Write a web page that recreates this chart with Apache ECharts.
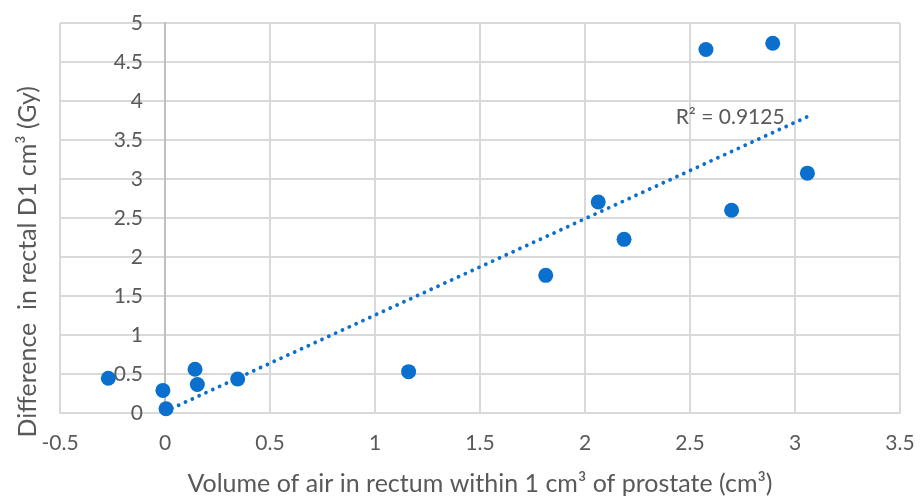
<!DOCTYPE html>
<html>
<head>
<meta charset="utf-8">
<script src="https://cdn.jsdelivr.net/npm/echarts@6/dist/echarts.min.js"></script>
<style>
  html, body { margin: 0; padding: 0; background: #fff; }
  #chart { width: 922px; height: 501px; }
</style>
</head>
<body>
<div id="chart"></div>
<script>
// Air volume in rectum (cm³) vs. change in rectal D1 cm³ (Gy)
const airVolume = [-0.27, -0.01, 0.005, 0.143, 0.154, 0.346, 1.160, 1.813, 2.063, 2.186, 2.576, 2.698, 2.894, 3.059];
const doseDiff  = [0.445, 0.29, 0.055, 0.56, 0.365, 0.436, 0.53, 1.765, 2.706, 2.226, 4.66, 2.60, 4.74, 3.075];

// Linear trendline end points
const trendX = [0.0, 3.06];
const trendY = [0.02, 3.80];
const trendLabel = 'R² = 0.9125';

const xTitle = 'Volume of air in rectum within 1 cm³ of prostate (cm³)';
const yTitle = 'Difference  in rectal D1 cm³ (Gy)';

const font = 'Lato, "Open Sans", sans-serif';
const grey = '#595959';
const blue = '#0b6fcd';

const points = airVolume.map((x, i) => [x, doseDiff[i]]);
const trend = trendX.map((x, i) => [x, trendY[i]]);

const chart = echarts.init(document.getElementById('chart'), null, { renderer: 'canvas' });
chart.setOption({
  animation: false,
  backgroundColor: '#fff',
  grid: { left: 60, right: 22, top: 23, bottom: 85, containLabel: false },
  xAxis: {
    type: 'value',
    min: -0.5, max: 3.5, interval: 0.5,
    name: xTitle,
    nameLocation: 'middle',
    nameGap: 58,
    nameTextStyle: { fontFamily: font, fontSize: 25, color: grey },
    axisLine: { show: true, onZero: false, lineStyle: { color: '#d9d9d9', width: 2 } },
    axisTick: { show: false },
    axisLabel: { fontFamily: font, fontSize: 21, color: grey, margin: 20 },
    splitLine: { show: true, lineStyle: { color: '#d9d9d9', width: 2 } }
  },
  yAxis: {
    type: 'value',
    min: 0, max: 5, interval: 0.5,
    // value axis drawn along x = 0 (0.5 unit = 105 px right of the grid edge)
    offset: -105,
    axisLine: { show: true, onZero: false, lineStyle: { color: '#bfbfbf', width: 2 } },
    axisTick: { show: false },
    axisLabel: { fontFamily: font, fontSize: 21, color: grey, margin: 22 },
    splitLine: { show: true, lineStyle: { color: '#d9d9d9', width: 2 } }
  },
  graphic: [{
    type: 'text',
    left: 15,
    top: 86,
    rotation: Math.PI / 2,
    style: { text: yTitle, font: '25px ' + font, fill: grey }
  }],
  series: [
    {
      type: 'line',
      data: trend,
      symbol: 'none',
      silent: true,
      lineStyle: { color: blue, width: 3.8, type: [0.01, 7.5], cap: 'round' },
      z: 2,
      endLabel: {
        show: true,
        formatter: trendLabel,
        distance: 0,
        align: 'right',
        verticalAlign: 'middle',
        offset: [-23, 1],
        fontFamily: font, fontSize: 21, color: grey
      }
    },
    {
      type: 'scatter',
      data: points,
      symbol: 'circle',
      symbolSize: 15,
      itemStyle: { color: blue, opacity: 1 },
      z: 3
    }
  ]
});
</script>
</body>
</html>
